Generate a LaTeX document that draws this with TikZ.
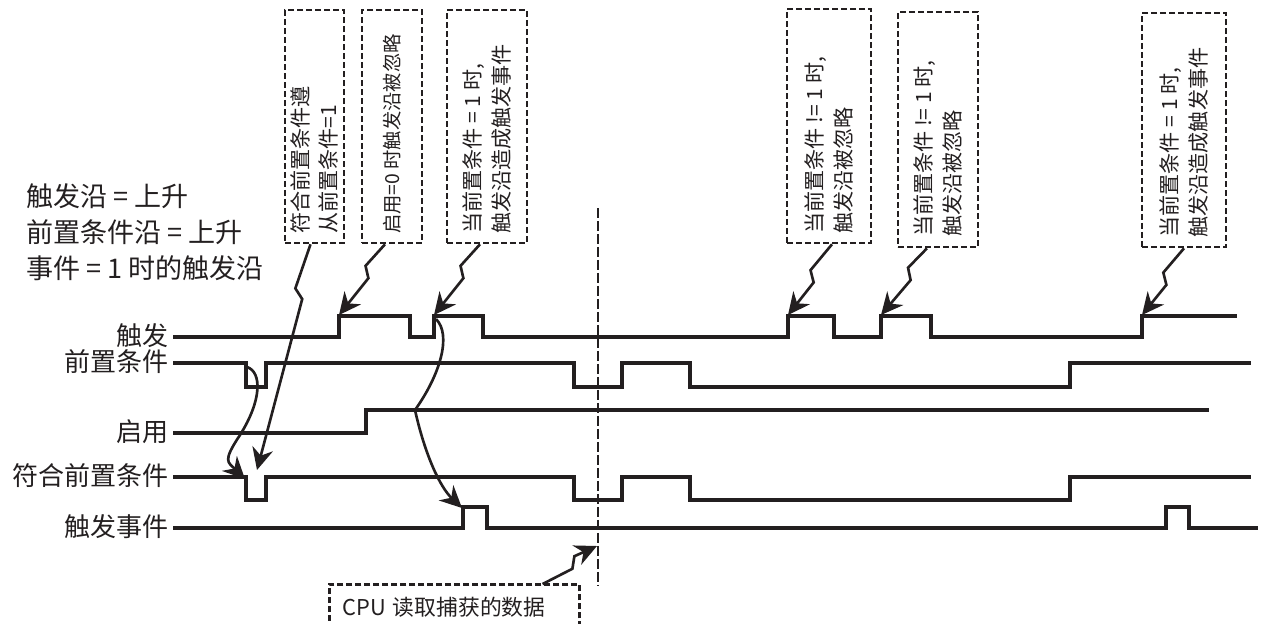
\documentclass[tikz,border=0pt]{standalone}
\usepackage{fontspec}
\setmainfont{Noto Sans CJK SC}
\usepackage{graphicx}
\usetikzlibrary{arrows.meta,calc}
\definecolor{inkGray}{RGB}{35,31,32}

\tikzset{
  sig/.style={inkGray, line width=1.8pt, line join=miter},
  notebox/.style={draw=inkGray, line width=1.5pt, dash pattern=on 1.2mm off 0.6mm,
    inner sep=0pt, text=inkGray},
  boltline/.style={inkGray, line width=1.5pt, line join=miter,
    -{Stealth[length=4.4mm, width=4.2mm]}},
  curvearrow/.style={inkGray, line width=1.5pt, -{Stealth[length=4.4mm, width=4.2mm]}},
  signame/.style={anchor=east, inner sep=0pt, text=inkGray,
    font=\fontsize{14.8}{17}\selectfont},
}
% rotated text inside the dashed notes
\newcommand{\vtext}[2][12]{\rotatebox{90}{\parbox{4.3cm}{\fontsize{#1}{16.4}\selectfont\raggedright #2}}}
% lightning connector: start, end, optional place of the kink
\newcommand{\bolt}[3][0.35]{%
  \draw[boltline] (#2) -- ($(#2)!#1!(#3)!2.6pt!-90:(#3)$)
    -- ($(#2)!#1!(#3)!5pt!(#3)!2.6pt!90:(#3)$) -- (#3);}

\begin{document}
\begin{tikzpicture}[x=0.02cm, y=-0.02cm]
    \useasboundingbox (0,0) rectangle (1265,623);
    % --- edge settings, top left ---
    \node[anchor=west, inner sep=0pt, align=left, text=inkGray,
      font=\fontsize{15.4}{20.5}\selectfont] (edges) at (26,232)
      {触发沿 = 上升\\前置条件沿 = 上升\\事件 = 1 时的触发沿};
    % --- signal names ---
    \node[signame] (lTrig) at (169,336) {触发};
    \node[signame] (lPre)  at (169,362) {前置条件};
    \node[signame] (lEn)   at (169,432) {启用};
    \node[signame] (lQual) at (169,476) {符合前置条件};
    \node[signame] (lEvt)  at (169,527) {触发事件};
    % --- waveforms ---
    \draw[sig] (173,337) -- (339,337) -- (339,316) -- (410,316) -- (410,337)
      -- (434,337) -- (434,316) -- (483,316) -- (483,337) -- (788,337)
      -- (788,316) -- (834,316) -- (834,337) -- (881,337) -- (881,316)
      -- (931,316) -- (931,337) -- (1142,337) -- (1142,316) -- (1237,316);
    \draw[sig] (173,363) -- (246,363) -- (246,387) -- (266,387) -- (266,363)
      -- (574,363) -- (574,387) -- (622,387) -- (622,363) -- (690,363)
      -- (690,387) -- (1070,387) -- (1070,363) -- (1251,363);
    \draw[sig] (173,433) -- (366,433) -- (366,410) -- (1209,410);
    \draw[sig] (173,477) -- (246,477) -- (246,500) -- (266,500) -- (266,477)
      -- (574,477) -- (574,500) -- (622,500) -- (622,477) -- (690,477)
      -- (690,500) -- (1070,500) -- (1070,477) -- (1251,477);
    \draw[sig] (173,528) -- (463,528) -- (463,507) -- (487,507) -- (487,528)
      -- (1166,528) -- (1166,507) -- (1189,507) -- (1189,528) -- (1258,528);
    % --- CPU read instant ---
    \draw[inkGray, line width=1.4pt, dash pattern=on 2mm off 0.6mm] (598,208) -- (598,585);
    % --- points the arrows go to ---
    \coordinate (tr1) at (339,315);
    \coordinate (tr2) at (434,315);
    \coordinate (tr3) at (788,315);
    \coordinate (tr4) at (881,315);
    \coordinate (tr5) at (1142,315);
    \coordinate (trOut) at (436,319);
    \coordinate (preFall) at (247,367);
    \coordinate (qualFall) at (245,479);
    \coordinate (qualHit) at (257,470);
    \coordinate (evtRise) at (462,508);
    \coordinate (cpuHit) at (597,546);
    % --- dashed notes ---
    \node[notebox, minimum width=1.18cm, minimum height=4.66cm] (nQual) at (314.5,126.5)
      {\vtext{符合前置条件遵\\从前置条件=1}};
    \node[notebox, minimum width=1.2cm, minimum height=4.66cm] (nEnOff) at (392,126.5)
      {\vtext[11]{启用=0 时触发沿被忽略}};
    \node[notebox, minimum width=1.6cm, minimum height=4.66cm] (nEvtA) at (487,126.5)
      {\vtext{当前置条件 = 1 时,\\触发沿造成触发事件}};
    \node[notebox, minimum width=1.68cm, minimum height=4.68cm] (nSkipA) at (829,126)
      {\vtext{当前置条件 != 1 时,\\触发沿被忽略}};
    \node[notebox, minimum width=1.6cm, minimum height=4.7cm] (nSkipB) at (938,129.5)
      {\vtext{当前置条件 != 1 时,\\触发沿被忽略}};
    \node[notebox, minimum width=1.68cm, minimum height=4.68cm] (nEvtB) at (1184,130)
      {\vtext{当前置条件 = 1 时,\\触发沿造成触发事件}};
    \node[notebox, anchor=north west, minimum width=5cm, minimum height=0.9cm,
      inner xsep=0.26cm, text width=4.48cm, align=left,
      font=\fontsize{12.4}{14}\selectfont] (nCpu) at (328,583) {CPU 读取捕获的数据};
    % --- lightning connectors ---
    \bolt[0.2]{$(nQual.south)+(-4,0)$}{qualHit}
    \bolt[0.34]{$(nEnOff.south)+(-7,0)$}{tr1}
    \bolt[0.34]{$(nEvtA.south)+(-7,0)$}{tr2}
    \bolt[0.4]{$(nSkipA.south)+(3,0)$}{tr3}
    \bolt[0.33]{$(nSkipB.south)+(-11,0)$}{tr4}
    \bolt[0.4]{nEvtB.south}{tr5}
    \bolt[0.5]{$(nCpu.north east)+(-38,1)$}{cpuHit}
    % --- curved cause arrows ---
    \draw[curvearrow] (preFall) .. controls (262,372) and (262,400) .. (240,435)
      .. controls (222,462) and (228,462) .. (qualFall);
    \draw[curvearrow] (trOut) .. controls (452,335) and (440,375) .. (415,410)
      .. controls (425,455) and (440,487) .. (evtRise);
  \end{tikzpicture}
\end{document}
